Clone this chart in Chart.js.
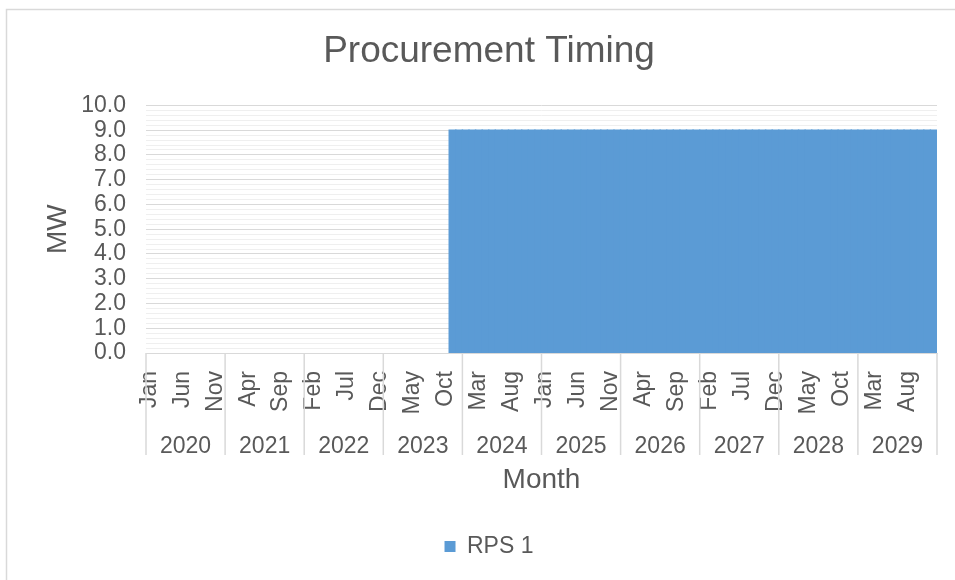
<!DOCTYPE html>
<html>
<head>
<meta charset="utf-8">
<script src="https://cdn.jsdelivr.net/npm/chart.js@4.4.1/dist/chart.umd.min.js"></script>
<style>
html,body{margin:0;padding:0;background:#fff;overflow:hidden}
#wrap{position:relative;width:955px;height:580px}
</style>
</head>
<body>
<div id="wrap"><canvas id="c" width="955" height="580"></canvas></div>
<script>
// ---- data ----
const monthNames = ['Jan','Feb','Mar','Apr','May','Jun','Jul','Aug','Sep','Oct','Nov','Dec'];
const years = ['2020','2021','2022','2023','2024','2025','2026','2027','2028','2029'];
const rps1 = [
  0,0,0,0,0,0,0,0,0,0,0,0,   // 2020
  0,0,0,0,0,0,0,0,0,0,0,0,   // 2021
  0,0,0,0,0,0,0,0,0,0,0,0,   // 2022
  0,0,0,0,0,0,0,0,0,0,9,9,   // 2023
  9,9,9,9,9,9,9,9,9,9,9,9,   // 2024
  9,9,9,9,9,9,9,9,9,9,9,9,   // 2025
  9,9,9,9,9,9,9,9,9,9,9,9,   // 2026
  9,9,9,9,9,9,9,9,9,9,9,9,   // 2027
  9,9,9,9,9,9,9,9,9,9,9,9,   // 2028
  9,9,9,9,9,9,9,9,9,9,9,9    // 2029
];
const monthLabelEvery = 5;
const yMin = 0, yMax = 10, yMajorStep = 1, yMinorStep = 0.2;

// ---- build ----
const monthLabels = [];
years.forEach(() => monthNames.forEach(m => monthLabels.push(m)));

const FONT = "'Liberation Sans', Arial, sans-serif";
const TXT = '#595959';
const GRID_MAJOR = '#d9d9d9';
const GRID_MINOR = '#efefef';
const BAR = '#5B9BD5';
const YEAR_ROW = 40;

const framePlugin = {
  id: 'frame',
  beforeDraw(chart) {
    const ctx = chart.ctx;
    ctx.save();
    ctx.fillStyle = '#fff';
    ctx.fillRect(0, 0, chart.width, chart.height);
    ctx.strokeStyle = '#d9d9d9';
    ctx.lineWidth = 1.5;
    ctx.beginPath();
    ctx.moveTo(6.5, chart.height);
    ctx.lineTo(6.5, 9.5);
    ctx.lineTo(chart.width, 9.5);
    ctx.stroke();
    ctx.restore();
  }
};

const separatorPlugin = {
  id: 'separators',
  afterDraw(chart) {
    const xs = chart.scales.x, x2 = chart.scales.x2;
    const ctx = chart.ctx;
    const step = xs.getPixelForValue(1) - xs.getPixelForValue(0);
    const top = chart.chartArea.bottom;
    const bottom = x2.top + YEAR_ROW;
    ctx.save();
    ctx.strokeStyle = '#d9d9d9';
    ctx.lineWidth = 1.5;
    ctx.beginPath();
    for (let k = 0; k <= years.length; k++) {
      const px = xs.getPixelForValue(0) - step / 2 + k * monthNames.length * step;
      ctx.moveTo(px, top);
      ctx.lineTo(px, bottom);
    }
    ctx.stroke();
    ctx.restore();
  }
};

new Chart(document.getElementById('c'), {
  type: 'bar',
  data: {
    labels: monthLabels,
    datasets: [{
      label: 'RPS 1',
      data: rps1,
      backgroundColor: c => (c.raw === 0 ? 'rgba(0,0,0,0)' : BAR),
      borderColor: BAR,
      borderWidth: 0,
      inflateAmount: 0.7,
      barPercentage: 1,
      categoryPercentage: 1
    }]
  },
  options: {
    responsive: false,
    animation: false,
    layout: { padding: { left: 41, right: 18, top: 0, bottom: 12 } },
    plugins: {
      title: {
        display: true,
        text: 'Procurement Timing',
        color: TXT,
        font: { family: FONT, size: 37, weight: 'normal' },
        padding: { top: 30, bottom: 31 }
      },
      legend: {
        position: 'bottom',
        labels: {
          color: TXT,
          font: { family: FONT, size: 23 },
          boxWidth: 11,
          boxHeight: 11,
          padding: 10,
          generateLabels: chart => [{
            text: 'RPS 1',
            fillStyle: BAR,
            strokeStyle: BAR,
            lineWidth: 0,
            fontColor: TXT,
            hidden: false,
            datasetIndex: 0
          }]
        }
      },
      tooltip: { enabled: false }
    },
    scales: {
      x: {
        type: 'category',
        position: 'bottom',
        offset: true,
        grid: { display: false },
        border: { display: true, color: GRID_MAJOR, width: 1 },
        ticks: {
          autoSkip: false,
          maxRotation: 90,
          minRotation: 90,
          padding: 10,
          color: TXT,
          font: { family: FONT, size: 23 },
          callback: (v, i) => (i % monthLabelEvery === 0 ? monthLabels[i] : '')
        },
        afterFit: s => { s.height = 62; s.paddingLeft = 0; s.paddingRight = 0; }
      },
      y: {
        min: yMin,
        max: yMax,
        grid: {
          drawTicks: false,
          color: c => (Math.abs(c.tick.value / yMajorStep - Math.round(c.tick.value / yMajorStep)) < 1e-6 ? GRID_MAJOR : GRID_MINOR),
          lineWidth: 1
        },
        border: { display: false },
        ticks: {
          stepSize: yMinorStep,
          maxTicksLimit: 1000,
          autoSkip: false,
          padding: 20,
          color: TXT,
          font: { family: FONT, size: 23 },
          callback: v => (Math.abs(v / yMajorStep - Math.round(v / yMajorStep)) < 1e-6 ? Number(v).toFixed(1) : '')
        },
        title: {
          display: true,
          text: 'MW',
          color: TXT,
          font: { family: FONT, size: 28 },
          padding: { top: 0, bottom: 0 }
        },
        afterFit: s => { s.width = 105; }
      },
      x2: {
        type: 'category',
        position: 'bottom',
        labels: years,
        offset: true,
        grid: { display: false },
        border: { display: false },
        ticks: {
          autoSkip: false,
          maxRotation: 0,
          minRotation: 0,
          padding: 10,
          color: TXT,
          font: { family: FONT, size: 23 }
        },
        title: {
          display: true,
          text: 'Month',
          color: TXT,
          font: { family: FONT, size: 28 },
          padding: { top: 0, bottom: 28 }
        },
        afterFit: s => { s.height = 110; s.paddingLeft = 0; s.paddingRight = 0; }
      }
    }
  },
  plugins: [framePlugin, separatorPlugin]
});
</script>
</body>
</html>
